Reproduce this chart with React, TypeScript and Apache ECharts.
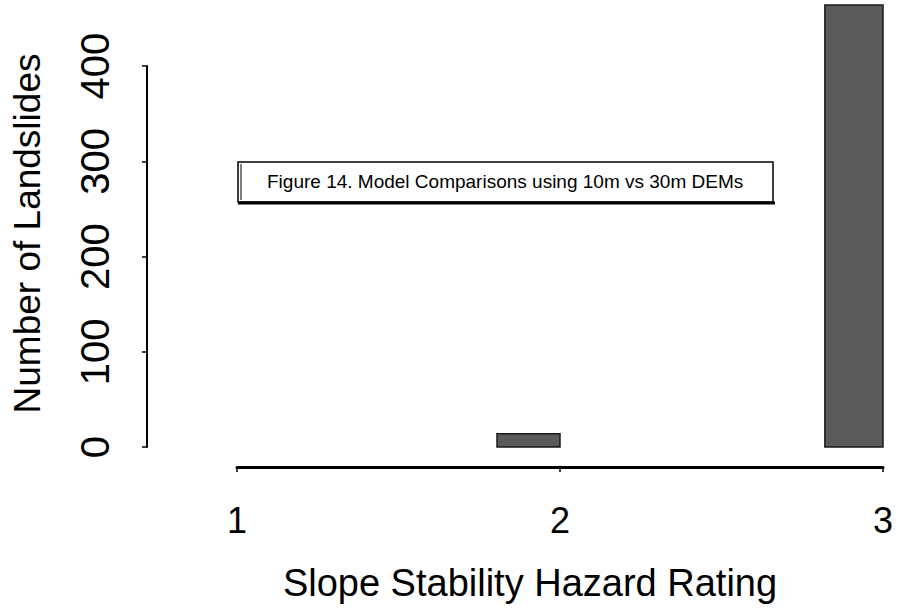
import React, { useEffect, useRef } from "react";
import * as echarts from "echarts";

// Histogram-style bars: [binStart, binEnd, count]
const binStarts = [1.805, 2.82];
const binEnds = [2.0, 3.0];
const counts = [14, 464];

const xTicks = [1, 2, 3];
const yTicks = [0, 100, 200, 300, 400];

const xTitle = "Slope Stability Hazard Rating";
const yTitle = "Number of Landslides";
const caption = "Figure 14. Model Comparisons using 10m vs 30m DEMs";

const FONT = "'Liberation Sans', Arial, Helvetica, sans-serif";

export default function App() {
  const ref = useRef<HTMLDivElement>(null);

  useEffect(() => {
    if (!ref.current) return;
    const chart = echarts.init(ref.current, undefined, { renderer: "svg" });
    const data = counts.map((c, i) => [binStarts[i], binEnds[i], c]);

    chart.setOption({
      animation: false,
      backgroundColor: "#ffffff",
      textStyle: { fontFamily: FONT, color: "#000" },
      grid: { left: 237, right: 14, top: 66, bottom: 162, containLabel: false },
      xAxis: {
        type: "value",
        min: xTicks[0],
        max: xTicks[xTicks.length - 1],
        interval: 1,
        position: "bottom",
        offset: 20,
        splitLine: { show: false },
        axisLine: { show: true, onZero: false, lineStyle: { color: "#000", width: 3 } },
        axisTick: { show: true, length: 5, lineStyle: { color: "#000", width: 1.5 } },
        axisLabel: { fontSize: 36, color: "#000", margin: 35, fontFamily: FONT },
        name: xTitle,
        nameLocation: "middle",
        nameGap: 97,
        nameTextStyle: { fontSize: 38, color: "#000", fontFamily: FONT, padding: [0, 60, 0, 0] },
      },
      yAxis: {
        type: "value",
        min: yTicks[0],
        max: yTicks[yTicks.length - 1],
        interval: 100,
        position: "left",
        offset: 90,
        splitLine: { show: false },
        axisLine: { show: true, onZero: false, lineStyle: { color: "#000", width: 2 } },
        axisTick: { show: true, length: 5, lineStyle: { color: "#000", width: 1.5 } },
        axisLabel: { fontSize: 40, color: "#000", margin: 32, rotate: 90, fontFamily: FONT },
        name: yTitle,
        nameLocation: "middle",
        nameGap: 101,
        nameTextStyle: { fontSize: 37, color: "#000", fontFamily: FONT, padding: [0, 0, 0, 46] },
      },
      series: [
        {
          type: "custom",
          clip: false,
          encode: { x: [0, 1], y: 2 },
          data,
          renderItem: (params: any, api: any) => {
            const x0 = api.value(0);
            const x1 = api.value(1);
            const v = api.value(2);
            const p0 = api.coord([x0, v]);
            const p1 = api.coord([x1, 0]);
            return {
              type: "rect",
              shape: { x: p0[0], y: p0[1], width: p1[0] - p0[0], height: p1[1] - p0[1] },
              style: { fill: "#5a5a5a", stroke: "#1a1a1a", lineWidth: 1.5 },
            };
          },
        },
      ],
      graphic: [
        {
          type: "rect",
          shape: { x: 238, y: 162, width: 535, height: 40 },
          style: { fill: "#fff", stroke: "#000", lineWidth: 1.5 },
          z: 10,
        },
        {
          type: "line",
          shape: { x1: 241, y1: 164, x2: 241, y2: 200 },
          style: { stroke: "#000", lineWidth: 1 },
          z: 11,
        },
        {
          type: "line",
          shape: { x1: 238, y1: 203, x2: 775, y2: 203 },
          style: { stroke: "#000", lineWidth: 3 },
          z: 11,
        },
        {
          type: "text",
          x: 267,
          y: 181,
          style: {
            text: caption,
            fontSize: 19,
            fontFamily: FONT,
            fill: "#000",
            verticalAlign: "middle",
            align: "left",
          },
          z: 12,
        },
      ],
    });

    return () => chart.dispose();
  }, []);

  return (
    <div
      ref={ref}
      style={{ position: "fixed", left: 0, top: 0, width: 897, height: 609, background: "#fff" }}
    />
  );
}
